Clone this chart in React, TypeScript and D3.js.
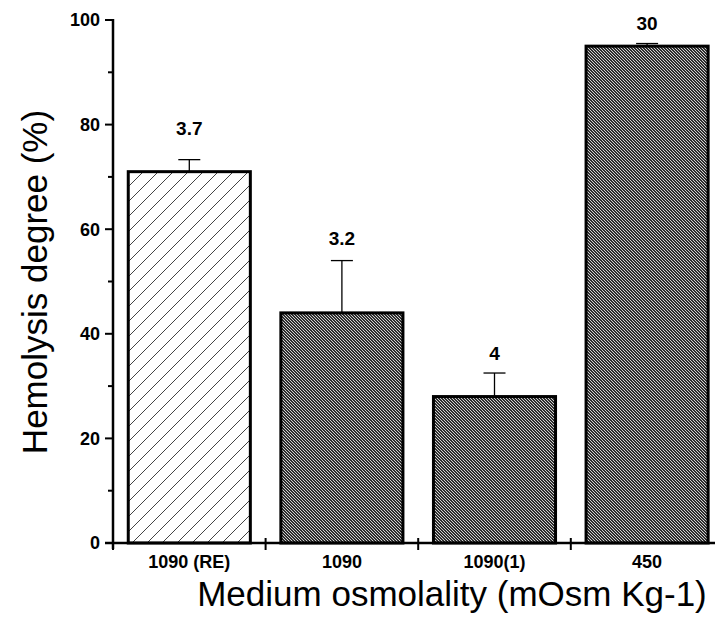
import React from "react";
import * as d3 from "d3";

const categories = ["1090 (RE)", "1090", "1090(1)", "450"];
const values = [71, 44, 28, 95];
const errorTops = [73.3, 54, 32.5, 95.5];
const annotations = ["3.7", "3.2", "4", "30"];
const annotationAt = [78, 57, 35, 98];
const yTicks = [0, 20, 40, 60, 80, 100];
const yMinorTicks = [10, 30, 50, 70, 90];

const W = 715;
const H = 628;
const left = 113;
const bandW = 152.6;
const top = 20;
const bottom = 543;

export default function App() {
  const x = d3
    .scaleBand<string>()
    .domain(categories)
    .range([left, left + bandW * categories.length])
    .paddingInner(0.2)
    .paddingOuter(0.1);
  const y = d3.scaleLinear().domain([0, 100]).range([bottom, top]);
  const font = "'Liberation Sans', Arial, sans-serif";
  const boundaries = d3.range(categories.length + 1).map((i) => left + i * bandW);

  return (
    <svg
      width={W}
      height={H}
      style={{ position: "absolute", left: 0, top: 0, background: "#fff" }}
    >
      <defs>
        <pattern id="hatch" patternUnits="userSpaceOnUse" width="15" height="15">
          <rect width="15" height="15" fill="#fff" />
          <path d="M-3,3 L3,-3 M0,15 L15,0 M12,18 L18,12" stroke="#444" strokeWidth="1" />
        </pattern>
        <pattern id="dither" patternUnits="userSpaceOnUse" width="3" height="3">
          <rect width="3" height="3" fill="#2e2e2e" />
          <path d="M0,0 L3,3" stroke="#d0d0d0" strokeWidth="1" />
        </pattern>
      </defs>

      {/* bars */}
      {categories.map((c, i) => (
        <rect
          key={c}
          x={x(c)}
          y={y(values[i])}
          width={x.bandwidth()}
          height={y(0) - y(values[i])}
          fill={i === 0 ? "url(#hatch)" : "url(#dither)"}
          stroke="#000"
          strokeWidth={3}
        />
      ))}

      {/* error bars */}
      {categories.map((c, i) => {
        const cx = (x(c) as number) + x.bandwidth() / 2;
        return (
          <g key={"e" + c} stroke="#000" strokeWidth={1.3}>
            <line x1={cx} x2={cx} y1={y(values[i])} y2={y(errorTops[i])} />
            <line x1={cx - 11} x2={cx + 11} y1={y(errorTops[i])} y2={y(errorTops[i])} />
          </g>
        );
      })}

      {/* annotations */}
      {categories.map((c, i) => {
        const cx = (x(c) as number) + x.bandwidth() / 2;
        return (
          <text
            key={"a" + c}
            x={cx}
            y={y(annotationAt[i])}
            textAnchor="middle"
            fontFamily={font}
            fontSize={19}
            fontWeight="bold"
            fill="#000"
          >
            {annotations[i]}
          </text>
        );
      })}

      {/* y axis */}
      <line x1={left} x2={left} y1={y(100) - 1} y2={y(0) + 6} stroke="#000" strokeWidth={2.5} />
      {yTicks.map((t) => (
        <g key={"yt" + t}>
          <line x1={left - 8} x2={left} y1={y(t)} y2={y(t)} stroke="#000" strokeWidth={2} />
          <text
            x={left - 13}
            y={y(t)}
            dy="0.35em"
            textAnchor="end"
            fontFamily={font}
            fontSize={18}
            fontWeight="bold"
            fill="#000"
          >
            {t}
          </text>
        </g>
      ))}
      {yMinorTicks.map((t) => (
        <line key={"ym" + t} x1={left - 5} x2={left} y1={y(t)} y2={y(t)} stroke="#000" strokeWidth={2} />
      ))}

      {/* x axis */}
      <line x1={left - 8} x2={W + 20} y1={y(0)} y2={y(0)} stroke="#000" strokeWidth={2.5} />
      {boundaries.map((b, i) => (
        <line key={"xb" + i} x1={b} x2={b} y1={y(0) - 5} y2={y(0) + 7} stroke="#000" strokeWidth={2} />
      ))}
      {categories.map((c) => (
        <text
          key={"xl" + c}
          x={(x(c) as number) + x.bandwidth() / 2}
          y={y(0) + 25}
          textAnchor="middle"
          fontFamily={font}
          fontSize={18}
          fontWeight="bold"
          fill="#000"
        >
          {c}
        </text>
      ))}

      {/* axis titles */}
      <text
        x={452}
        y={606}
        textAnchor="middle"
        fontFamily={font}
        fontSize={35}
        fill="#000"
      >
        Medium osmolality (mOsm Kg-1)
      </text>
      <text
        transform={`translate(47, 282) rotate(-90)`}
        textAnchor="middle"
        fontFamily={font}
        fontSize={35}
        fill="#000"
      >
        Hemolysis degree (%)
      </text>
    </svg>
  );
}
